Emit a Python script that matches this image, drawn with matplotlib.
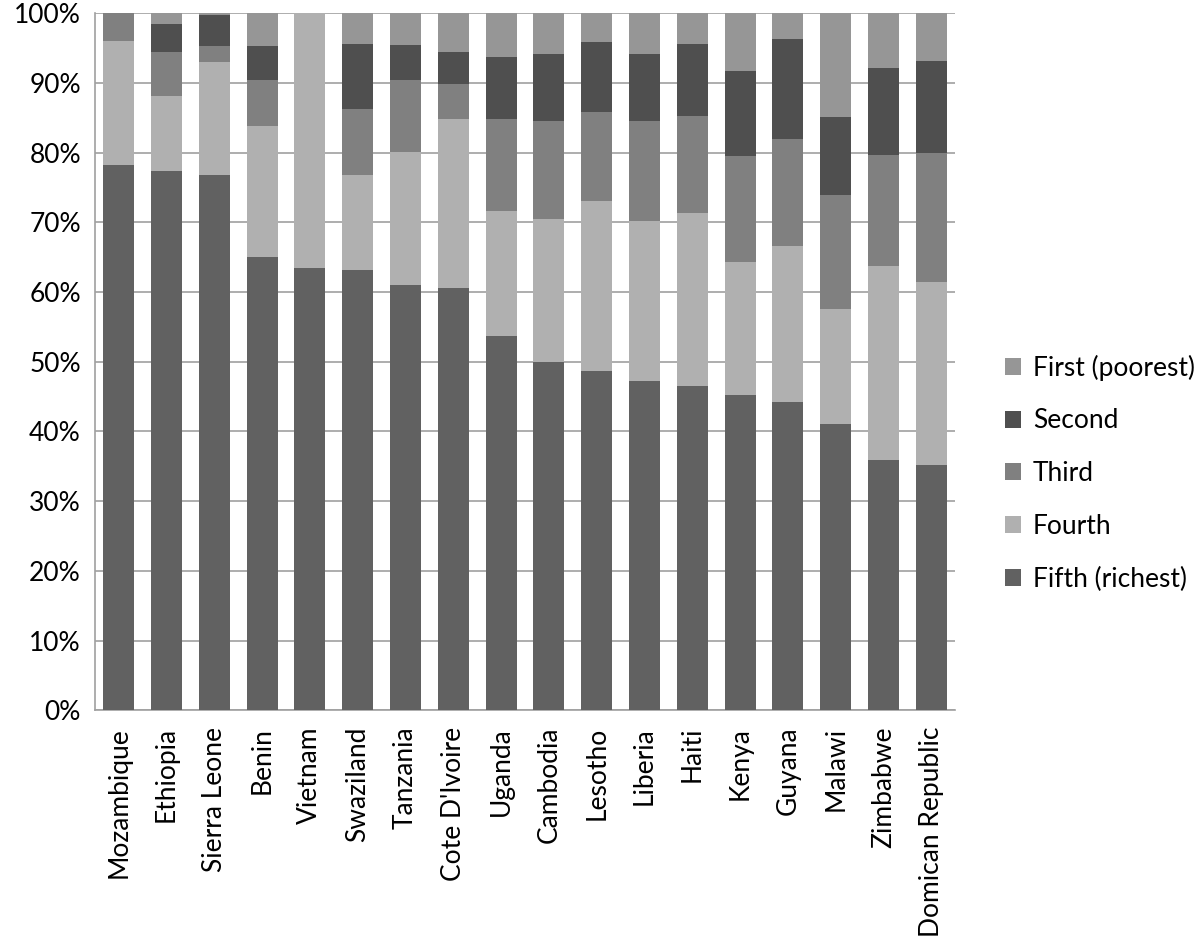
import matplotlib
matplotlib.use("Agg")
import matplotlib.pyplot as plt
import numpy as np
from matplotlib.ticker import FuncFormatter

countries = ["Mozambique", "Ethiopia", "Sierra Leone", "Benin", "Vietnam", "Swaziland",
             "Tanzania", "Cote D'Ivoire", "Uganda", "Cambodia", "Lesotho", "Liberia",
             "Haiti", "Kenya", "Guyana", "Malawi", "Zimbabwe", "Domican Republic"]

# cumulative tops (percent)
fifth_top  = [78.3, 77.4, 76.8, 65.1, 63.5, 63.1, 61.0, 60.6, 53.7, 50.0, 48.7, 47.3, 46.5, 45.3, 44.2, 41.1, 35.9, 35.2]
fourth_top = [96.1, 88.2, 93.0, 83.8, 100.0, 76.8, 80.1, 84.9, 71.6, 70.5, 73.0, 70.2, 71.4, 64.3, 66.6, 57.5, 63.7, 61.5]
third_top  = [100.0, 94.4, 95.3, 90.5, 100.0, 86.2, 90.5, 89.9, 84.9, 84.5, 85.9, 84.5, 85.3, 79.5, 82.0, 73.9, 79.7, 80.0]
second_top = [100.0, 98.4, 99.7, 95.3, 100.0, 95.6, 95.5, 94.5, 93.8, 94.2, 95.9, 94.2, 95.6, 91.7, 96.3, 85.1, 92.2, 93.2]

series_names = ["Fifth (richest)", "Fourth", "Third", "Second", "First (poorest)"]
colors = ["#616161", "#b0b0b0", "#808080", "#4f4f4f", "#969696"]

fifth = np.array(fifth_top)
fourth = np.array(fourth_top) - np.array(fifth_top)
third = np.array(third_top) - np.array(fourth_top)
second = np.array(second_top) - np.array(third_top)
first = 100.0 - np.array(second_top)
values = [fifth, fourth, third, second, first]

plt.rcParams['font.family'] = ['Lato', 'DejaVu Sans']

fig = plt.figure(figsize=(12, 9.52), dpi=100)
ax = fig.add_axes([0.079, 0.254, 0.717, 0.732])

x = np.arange(len(countries))
bottom = np.zeros(len(countries))
handles = []
for name, vals, c in zip(series_names, values, colors):
    h = ax.bar(x, vals, bottom=bottom, width=0.65, color=c, label=name, zorder=3)
    handles.append(h)
    bottom = bottom + vals

ax.set_ylim(0, 100)
ax.set_xlim(-0.5, len(countries) - 0.5)
ax.set_yticks(np.arange(0, 101, 10))
ax.yaxis.set_major_formatter(FuncFormatter(lambda v, p: f"{int(v)}%"))
ax.set_xticks(x)
ax.set_xticklabels(countries, rotation=90, fontsize=19)
ax.tick_params(axis='y', labelsize=19, length=0, pad=10)
ax.tick_params(axis='x', length=0, pad=12)
ax.grid(axis='y', color='#a0a0a0', linewidth=1.2, zorder=0)
for s in ['top', 'right']:
    ax.spines[s].set_visible(False)
for s in ['left', 'bottom']:
    ax.spines[s].set_color('#a0a0a0')
    ax.spines[s].set_linewidth(1.2)

leg = fig.legend(handles[::-1], series_names[::-1], loc='center left',
                 bbox_to_anchor=(0.818, 0.503), frameon=False, fontsize=19,
                 handlelength=0.6, handleheight=0.6, handletextpad=0.45,
                 labelspacing=1.05)

fig.savefig("out.png", dpi=100)
